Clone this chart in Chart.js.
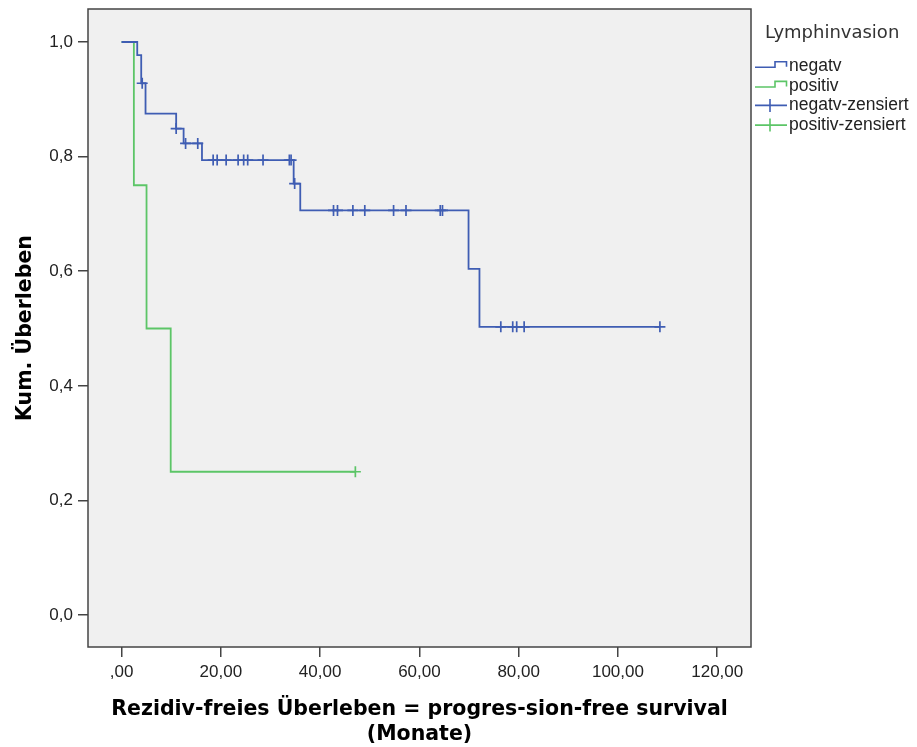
<!DOCTYPE html>
<html lang="de">
<head>
<meta charset="utf-8">
<title>Rezidiv-freies Überleben nach Lymphinvasion</title>
<script src="https://cdn.jsdelivr.net/npm/chart.js@4.4.1/dist/chart.umd.min.js"></script>
<style>
  html, body { margin: 0; padding: 0; background: #ffffff; }
  canvas { display: block; }
</style>
</head>
<body>
<canvas id="km" width="917" height="747"></canvas>
<script>
// Kaplan-Meier step data (time in months, cumulative survival)
const negatvTimes = [0, 3.16, 3.96, 4.83, 11.0, 12.5, 16.2, 34.67, 36.0, 69.9, 72.1, 108.45];
const negatvSurv  = [1.0, 0.977, 0.928, 0.875, 0.849, 0.823, 0.794, 0.753, 0.706, 0.604, 0.503, 0.503];

const positivTimes = [0, 2.48, 5.03, 9.9, 47.1];
const positivSurv  = [1.0, 0.75, 0.5, 0.25, 0.25];

// Censored observations
const negatvCensTimes = [4.16, 11.0, 12.9, 15.35, 18.45, 19.26, 21.07, 23.48, 24.6, 25.41, 28.5, 33.8, 34.15,
                         34.87, 42.7, 43.5, 46.6, 49.0, 54.8, 57.3, 64.2, 64.65, 76.4, 78.8, 79.6, 81.1, 108.45];
const negatvCensSurv  = [0.928, 0.849, 0.823, 0.823, 0.794, 0.794, 0.794, 0.794, 0.794, 0.794, 0.794, 0.794, 0.794,
                         0.753, 0.706, 0.706, 0.706, 0.706, 0.706, 0.706, 0.706, 0.706, 0.503, 0.503, 0.503, 0.503, 0.503];

const positivCensTimes = [47.1];
const positivCensSurv  = [0.25];

// Axis ticks
const xTickValues = [0, 20, 40, 60, 80, 100, 120];
const xTickLabels = [',00', '20,00', '40,00', '60,00', '80,00', '100,00', '120,00'];
const yTickValues = [0, 0.2, 0.4, 0.6, 0.8, 1.0];
const yTickLabels = ['0,0', '0,2', '0,4', '0,6', '0,8', '1,0'];

const legendTitle = 'Lymphinvasion';
const seriesNames = ['negatv', 'positiv', 'negatv-zensiert', 'positiv-zensiert'];

const BLUE = '#3f5db3';
const GREEN = '#5cc567';
const AXIS = '#444444';
const TEXT = '#222222';

const toPoints = (xs, ys) => xs.map((x, i) => ({ x: x, y: ys[i] }));

// Plot background and surrounding frame
const framePlugin = {
  id: 'frame',
  beforeDraw(chart) {
    const { ctx, chartArea: a } = chart;
    ctx.save();
    ctx.fillStyle = '#ffffff';
    ctx.fillRect(0, 0, chart.width, chart.height);
    ctx.fillStyle = '#f0f0f0';
    ctx.fillRect(a.left, a.top, a.right - a.left, a.bottom - a.top);
    ctx.restore();
  },
  afterDraw(chart) {
    const { ctx, chartArea: a } = chart;
    ctx.save();
    ctx.strokeStyle = AXIS;
    ctx.lineWidth = 1.5;
    ctx.strokeRect(a.left, a.top, a.right - a.left, a.bottom - a.top);
    ctx.restore();
  }
};

// Legend to the right of the plot: step icons for curves, crosses for censored marks
const kmLegend = {
  id: 'kmLegend',
  afterDraw(chart) {
    const ctx = chart.ctx;
    const x0 = 755;
    ctx.save();
    ctx.fillStyle = '#333333';
    ctx.font = '18px "DejaVu Sans"';
    ctx.textAlign = 'left';
    ctx.textBaseline = 'alphabetic';
    ctx.fillText(legendTitle, 765, 37.5);

    const baselines = [71, 90.7, 110.4, 130.1];
    const colors = [BLUE, GREEN, BLUE, GREEN];
    ctx.font = '17.5px "Liberation Sans"';
    seriesNames.forEach((name, i) => {
      const b = baselines[i];
      ctx.strokeStyle = colors[i];
      ctx.lineWidth = 1.6;
      ctx.beginPath();
      if (i < 2) {
        ctx.moveTo(x0, b - 3.7);
        ctx.lineTo(775, b - 3.7);
        ctx.lineTo(775, b - 9.3);
        ctx.lineTo(786.5, b - 9.3);
        ctx.lineTo(786.5, b - 4.3);
      } else {
        ctx.moveTo(x0, b - 5);
        ctx.lineTo(787, b - 5);
        ctx.moveTo(770, b - 11.5);
        ctx.lineTo(770, b + 1.5);
      }
      ctx.stroke();
      ctx.fillStyle = TEXT;
      ctx.fillText(name, 789, b);
    });
    ctx.restore();
  }
};

const tickFont = { family: '"Liberation Sans", Arial, sans-serif', size: 17 };
const titleFont = { family: '"DejaVu Sans", sans-serif', size: 20.5, weight: 'bold', lineHeight: '25px' };

new Chart(document.getElementById('km'), {
  type: 'line',
  data: {
    datasets: [
      {
        label: seriesNames[0],
        data: toPoints(negatvTimes, negatvSurv),
        stepped: true,
        borderColor: BLUE,
        borderWidth: 1.8,
        pointRadius: 0,
        fill: false
      },
      {
        label: seriesNames[1],
        data: toPoints(positivTimes, positivSurv),
        stepped: true,
        borderColor: GREEN,
        borderWidth: 1.8,
        pointRadius: 0,
        fill: false
      },
      {
        label: seriesNames[2],
        data: toPoints(negatvCensTimes, negatvCensSurv),
        showLine: false,
        pointStyle: 'cross',
        pointRadius: 5.5,
        pointBorderWidth: 1.7,
        pointBorderColor: BLUE,
        borderColor: BLUE
      },
      {
        label: seriesNames[3],
        data: toPoints(positivCensTimes, positivCensSurv),
        showLine: false,
        pointStyle: 'cross',
        pointRadius: 5.5,
        pointBorderWidth: 1.7,
        pointBorderColor: GREEN,
        borderColor: GREEN
      }
    ]
  },
  options: {
    responsive: false,
    animation: false,
    events: [],
    layout: { padding: { left: 0, right: 166, top: 9, bottom: 0 } },
    plugins: {
      legend: { display: false },
      tooltip: { enabled: false }
    },
    scales: {
      x: {
        type: 'linear',
        min: -6.76,
        max: 126.8,
        afterBuildTicks: (scale) => { scale.ticks = xTickValues.map(v => ({ value: v })); },
        afterFit: (scale) => {
          scale.height = 100;
          scale.paddingLeft = 0;
          scale.paddingRight = 0;
        },
        ticks: {
          autoSkip: false,
          maxRotation: 0,
          padding: 5,
          color: TEXT,
          font: tickFont,
          callback: (value) => xTickLabels[xTickValues.indexOf(value)]
        },
        grid: { drawOnChartArea: false, drawTicks: true, tickLength: 10, color: AXIS, lineWidth: 1.5 },
        border: { display: false },
        title: {
          display: true,
          text: ['Rezidiv-freies Überleben = progres-sion-free survival', '(Monate)'],
          color: '#000000',
          font: titleFont,
          padding: { top: 0, bottom: 0 }
        }
      },
      y: {
        type: 'linear',
        min: -0.0558,
        max: 1.0576,
        afterBuildTicks: (scale) => { scale.ticks = yTickValues.map(v => ({ value: v })); },
        afterFit: (scale) => {
          scale.width = 88;
          scale.paddingTop = 0;
          scale.paddingBottom = 0;
        },
        ticks: {
          autoSkip: false,
          padding: 5,
          color: TEXT,
          font: tickFont,
          callback: (value) => yTickLabels[yTickValues.findIndex(v => Math.abs(v - value) < 1e-9)]
        },
        grid: { drawOnChartArea: false, drawTicks: true, tickLength: 10, color: AXIS, lineWidth: 1.5 },
        border: { display: false },
        title: {
          display: true,
          text: 'Kum. Überleben',
          color: '#000000',
          font: titleFont,
          padding: { top: 13.5, bottom: 0 }
        }
      }
    }
  },
  plugins: [framePlugin, kmLegend]
});
</script>
</body>
</html>
